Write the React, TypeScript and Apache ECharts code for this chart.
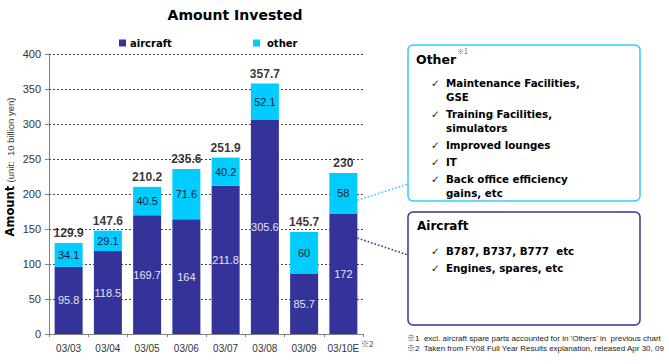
import React, { useEffect, useRef } from "react";
import * as echarts from "echarts";

const categories = ["03/03", "03/04", "03/05", "03/06", "03/07", "03/08", "03/09", "03/10E"];
const aircraft = [95.8, 118.5, 169.7, 164, 211.8, 305.6, 85.7, 172];
const other = [34.1, 29.1, 40.5, 71.6, 40.2, 52.1, 60, 58];
const totals = [129.9, 147.6, 210.2, 235.6, 251.9, 357.7, 145.7, 230];
const yTicks = { min: 0, max: 400, interval: 50 };

const otherItems = [
  "Maintenance Facilities,",
  "GSE",
  "Training Facilities,",
  "simulators",
  "Improved lounges",
  "IT",
  "Back office efficiency",
  "gains, etc",
];
const otherItemChecks = [true, false, true, false, true, true, true, false];
const aircraftItems = ["B787, B737, B777  etc", "Engines, spares, etc"];
const footnotes = [
  "※1  excl. aircraft spare parts accounted for in 'Others' in  previous chart",
  "※2  Taken from FY08 Full Year Results explanation, released Apr 30, 09",
];

const C_AIR = "#333399";
const C_OTH = "#00CCFF";
const BOLD = "DejaVu Sans";
const ARIAL = "Liberation Sans, Arial, sans-serif";

export default function App() {
  const ref = useRef<HTMLDivElement>(null);
  useEffect(() => {
    document.body.style.margin = "0";
    const chart = echarts.init(ref.current!, null, { renderer: "svg" });
    const option: any = {
      animation: false,
      backgroundColor: "#ffffff",
      title: {
        text: "Amount Invested",
        left: 230,
        textAlign: "center",
        top: 3,
        textStyle: { fontFamily: BOLD, fontWeight: "bold", fontSize: 14, color: "#000" },
      },
      legend: [
        {
          data: ["aircraft"],
          left: 114,
          top: 33,
          icon: "rect",
          itemWidth: 7,
          itemHeight: 7,
          itemGap: 4,
          textStyle: { fontFamily: BOLD, fontWeight: "bold", fontSize: 10, color: "#000", padding: [0, 0, 0, -1] },
        },
        {
          data: ["other"],
          left: 248,
          top: 33,
          icon: "rect",
          itemWidth: 7,
          itemHeight: 7,
          textStyle: { fontFamily: BOLD, fontWeight: "bold", fontSize: 10, color: "#000", padding: [0, 0, 0, 2] },
        },
      ],
      grid: { left: 49, right: 306, top: 54, bottom: 30, containLabel: false },
      xAxis: {
        type: "category",
        data: categories,
        axisLine: { lineStyle: { color: "#808080", width: 1 } },
        axisTick: { show: true, length: 3, interval: 0, lineStyle: { color: "#808080" } },
        axisLabel: { color: "#333", fontSize: 10, fontFamily: ARIAL, margin: 9, interval: 0 },
      },
      yAxis: {
        type: "value",
        min: yTicks.min,
        max: yTicks.max,
        interval: yTicks.interval,
        axisLine: { show: true, lineStyle: { color: "#808080", width: 1 } },
        axisTick: { show: true, length: 4, lineStyle: { color: "#808080" } },
        axisLabel: { color: "#333", fontSize: 11, fontFamily: ARIAL, margin: 8 },
        splitLine: { lineStyle: { color: "#444", type: [2, 2], width: 1 } },
      },
      series: [
        {
          name: "aircraft",
          type: "bar",
          stack: "t",
          barWidth: 28,
          data: aircraft,
          itemStyle: { color: C_AIR },
          label: { show: true, position: "inside", color: "#E4E4F4", fontSize: 11, fontFamily: ARIAL },
        },
        {
          name: "other",
          type: "bar",
          stack: "t",
          barWidth: 28,
          data: other,
          itemStyle: { color: C_OTH },
          label: { show: true, position: "inside", color: "#1a1a33", fontSize: 11, fontFamily: ARIAL },
        },
        {
          name: "total",
          type: "scatter",
          data: totals,
          symbolSize: 0,
          silent: true,
          label: {
            show: true,
            position: "top",
            distance: 4,
            color: "#000",
            fontWeight: "bold",
            fontSize: 12,
            fontFamily: ARIAL,
          },
        },
      ],
    };
    chart.setOption(option);

    const last = categories.length - 1;
    const pCyan = chart.convertToPixel({ gridIndex: 0 }, [last, 191]) as number[];
    const pBlue = chart.convertToPixel({ gridIndex: 0 }, [last, 137]) as number[];
    const half = 14;

    const graphics: any[] = [];
    graphics.push({
      type: "text",
      x: 10,
      y: 167,
      rotation: Math.PI / 2,
      style: {
        text: "{b|Amount} {n|(unit:  10 billion yen)}",
        align: "center",
        verticalAlign: "middle",
        rich: {
          b: { fontFamily: BOLD, fontWeight: "bold", fontSize: 11.5, fill: "#000" },
          n: { fontFamily: ARIAL, fontSize: 9.5, fill: "#333" },
        },
      },
    });
    graphics.push({
      type: "text",
      x: 361,
      y: 343,
      style: { text: "※2", fontSize: 8, fill: "#444", fontFamily: "Noto Sans CJK JP", verticalAlign: "middle" },
    });
    graphics.push({
      type: "line",
      shape: { x1: pCyan[0] + half, y1: pCyan[1], x2: 408, y2: 184 },
      style: { stroke: "#33CCFF", lineWidth: 1.6, lineDash: [1.6, 2] },
    });
    graphics.push({
      type: "line",
      shape: { x1: pBlue[0] + half, y1: pBlue[1], x2: 408, y2: 255 },
      style: { stroke: "#333399", lineWidth: 1.6, lineDash: [1.6, 2] },
    });
    graphics.push({
      type: "rect",
      shape: { x: 408, y: 45, width: 232, height: 156, r: 5 },
      style: { fill: "#fff", stroke: "#33CCFF", lineWidth: 1.5 },
    });
    graphics.push({
      type: "rect",
      shape: { x: 408, y: 212, width: 232, height: 113, r: 5 },
      style: { fill: "#fff", stroke: "#333399", lineWidth: 1.5 },
    });
    graphics.push({
      type: "text",
      x: 416,
      y: 59,
      style: { text: "Other", fontFamily: BOLD, fontWeight: "bold", fontSize: 12.5, fill: "#000", verticalAlign: "middle" },
    });
    graphics.push({
      type: "text",
      x: 457,
      y: 51,
      style: { text: "※1", fontFamily: "Noto Sans CJK JP", fontSize: 7, fill: "#666", verticalAlign: "middle" },
    });
    const otherY = [83, 97, 114, 128, 145, 162, 179, 193];
    otherItems.forEach((t, i) => {
      if (otherItemChecks[i]) {
        graphics.push({
          type: "text",
          x: 431,
          y: otherY[i],
          style: { text: "✓", fontFamily: "DejaVu Sans", fontSize: 10.5, fill: "#222", verticalAlign: "middle" },
        });
      }
      graphics.push({
        type: "text",
        x: 446,
        y: otherY[i],
        style: { text: t, fontFamily: BOLD, fontWeight: "bold", fontSize: 10.3, fill: "#000", verticalAlign: "middle" },
      });
    });
    graphics.push({
      type: "text",
      x: 417,
      y: 226,
      style: { text: "Aircraft", fontFamily: BOLD, fontWeight: "bold", fontSize: 12, fill: "#000", verticalAlign: "middle" },
    });
    const airY = [251, 268];
    aircraftItems.forEach((t, i) => {
      graphics.push({
        type: "text",
        x: 431,
        y: airY[i],
        style: { text: "✓", fontFamily: "DejaVu Sans", fontSize: 10.5, fill: "#222", verticalAlign: "middle" },
      });
      graphics.push({
        type: "text",
        x: 446,
        y: airY[i],
        style: { text: t, fontFamily: BOLD, fontWeight: "bold", fontSize: 10.3, fill: "#000", verticalAlign: "middle" },
      });
    });
    footnotes.forEach((t, i) => {
      graphics.push({
        type: "text",
        x: 407,
        y: 338 + i * 10.5,
        style: { text: t, fontFamily: "Liberation Sans, Noto Sans CJK JP", fontSize: 8, fill: "#222", verticalAlign: "middle" },
      });
    });
    chart.setOption({ graphic: graphics });

    return () => chart.dispose();
  }, []);
  return <div ref={ref} style={{ width: 669, height: 364 }} />;
}
